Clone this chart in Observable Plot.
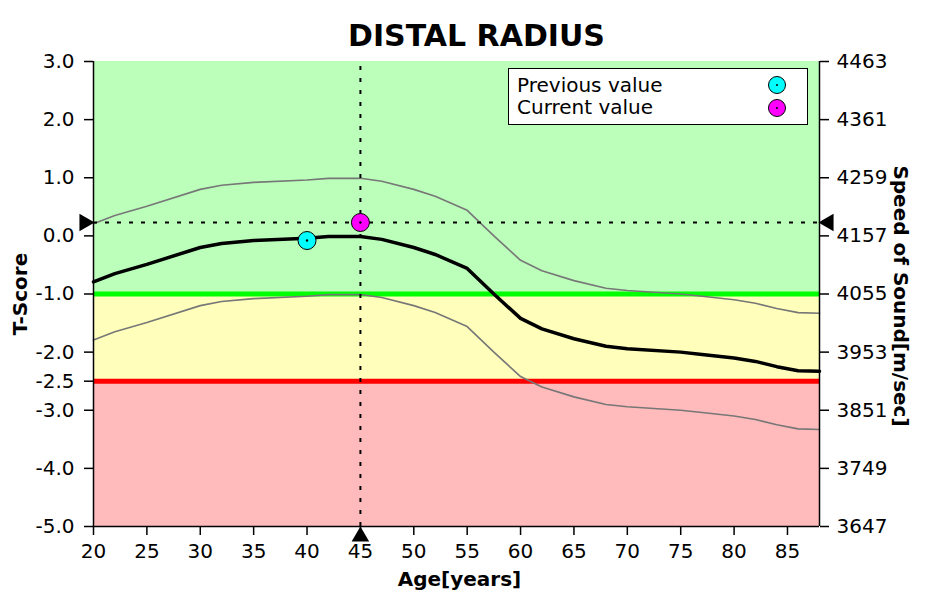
<!DOCTYPE html>
<html>
<head>
<meta charset="utf-8">
<script src="https://cdn.jsdelivr.net/npm/d3@7"></script>
<script src="https://cdn.jsdelivr.net/npm/@observablehq/plot@0.6"></script>
<style>
  html, body { margin: 0; padding: 0; background: #fff; }
  #wrap { position: relative; width: 926px; height: 603px; font-family: "DejaVu Sans", sans-serif; }
  #legend { position: absolute; left: 508px; top: 68px; width: 298px; height: 55px; background: #fff; border: 1px solid #000; font-size: 20px; line-height: 22px; }
  #legend .row { position: absolute; left: 8px; white-space: nowrap; }
  #legend .dot { position: absolute; left: 259px; width: 16px; height: 16px; border: 1px solid #000; border-radius: 50%; }
  #legend .dot::after { content: ""; position: absolute; left: 7px; top: 7px; width: 2px; height: 2px; background: #000; border-radius: 50%; }
</style>
</head>
<body>
<div id="wrap"></div>
<script>
// ---- data ----
const ages      = [20, 22, 25, 30, 32, 35, 40, 42, 45, 47, 50, 52, 55, 57.5, 60, 62, 65, 68, 70, 75, 77, 80, 82, 84, 86, 88];
const meanT     = [-0.79, -0.65, -0.49, -0.20, -0.13, -0.08, -0.04, -0.01, -0.01, -0.06, -0.20, -0.32, -0.56, -1.00, -1.42, -1.60, -1.77, -1.90, -1.94, -2.00, -2.04, -2.10, -2.16, -2.25, -2.32, -2.33];
const upperT    = [0.21, 0.35, 0.51, 0.80, 0.87, 0.92, 0.96, 0.99, 0.99, 0.94, 0.80, 0.68, 0.44, 0.00, -0.42, -0.60, -0.77, -0.90, -0.94, -1.00, -1.04, -1.10, -1.16, -1.25, -1.32, -1.33];
const lowerT    = [-1.79, -1.65, -1.49, -1.20, -1.13, -1.08, -1.04, -1.01, -1.01, -1.06, -1.20, -1.32, -1.56, -2.00, -2.42, -2.60, -2.77, -2.90, -2.94, -3.00, -3.04, -3.10, -3.16, -3.25, -3.32, -3.33];

const zoneNames  = ["normal", "osteopenia", "osteoporosis"];
const zoneTop    = [3, -1, -2.5];
const zoneBottom = [-1, -2.5, -5];
const zoneFill   = ["#bbffbb", "#ffffbb", "#ffbbbb"];

const thresholds      = [-1, -2.5];
const thresholdColors = ["#00ff00", "#ff0000"];

const leftTicks   = [3, 2, 1, 0, -1, -2, -2.5, -3, -4, -5];
const rightTicks  = [3, 2, 1, 0, -1, -2, -3, -4, -5];
const speedLabels = ["4463", "4361", "4259", "4157", "4055", "3953", "3851", "3749", "3647"];
const xTicks      = [20, 25, 30, 35, 40, 45, 50, 55, 60, 65, 70, 75, 80, 85];

const measLabels = ["Previous value", "Current value"];
const measAge    = [40, 45];
const measT      = [-0.08, 0.23];
const measColor  = ["#00ffff", "#ff00ff"];

// ---- tables ----
const curve = ages.map((a, i) => ({age: a, mean: meanT[i], upper: upperT[i], lower: lowerT[i]}));
const zones = zoneNames.map((n, i) => ({name: n, y1: zoneTop[i], y2: zoneBottom[i], fill: zoneFill[i]}));
const thr = thresholds.map((t, i) => ({t, color: thresholdColors[i]}));
const meas = measLabels.map((l, i) => ({label: l, age: measAge[i], t: measT[i], color: measColor[i]}));
const current = meas[1];

const font = "'DejaVu Sans', sans-serif";

const chart = Plot.plot({
  width: 926,
  height: 603,
  marginLeft: 93,
  marginRight: 107,
  marginTop: 61,
  marginBottom: 77,
  style: {fontFamily: font, fontSize: "20px", background: "#fff", overflow: "visible"},
  x: {domain: [20, 88]},
  y: {domain: [-5, 3]},
  marks: [
    Plot.rect(zones, {x1: 20, x2: 88, y1: "y1", y2: "y2", fill: "fill"}),
    Plot.ruleY(thr, {y: "t", x1: 20, x2: 88, stroke: "color", strokeWidth: 5}),
    Plot.line(curve, {x: "age", y: "upper", stroke: "#777777", strokeWidth: 1.6}),
    Plot.line(curve, {x: "age", y: "lower", stroke: "#777777", strokeWidth: 1.6}),
    Plot.line(curve, {x: "age", y: "mean", stroke: "#000", strokeWidth: 3.5}),
    // cross-hair through current value
    Plot.ruleY([current], {y: "t", x1: 20, x2: 88, stroke: "#000", strokeWidth: 2, strokeDasharray: "4,8"}),
    Plot.ruleX([current], {x: "age", y1: -5, y2: 3, stroke: "#000", strokeWidth: 2, strokeDasharray: "4,8"}),
    Plot.dot([current], {x: 20, y: "t", symbol: "triangle", r: 6.5, rotate: 90, fill: "#000", dx: -9}),
    Plot.dot([current], {x: 88, y: "t", symbol: "triangle", r: 6.5, rotate: -90, fill: "#000", dx: 9}),
    Plot.dot([current], {x: "age", y: -5, symbol: "triangle", r: 6.5, fill: "#000", dy: 10}),
    // measurement points
    Plot.dot(meas, {x: "age", y: "t", r: 9, fill: "color", stroke: "#000", strokeWidth: 1}),
    Plot.dot(meas, {x: "age", y: "t", r: 1.2, fill: "#000"}),
    // axis lines
    Plot.ruleX([20, 88], {stroke: "#000", strokeWidth: 1.5}),
    Plot.ruleY([-5], {stroke: "#000", strokeWidth: 1.5}),
    // axes
    Plot.axisY({ticks: leftTicks, tickFormat: d => d.toFixed(1), tickSize: 9, tickPadding: 10, label: null, anchor: "left", fontSize: 20, stroke: "#000", strokeWidth: 1.5}),
    Plot.axisY({ticks: rightTicks, tickFormat: (d, i) => speedLabels[i], tickSize: 9, tickPadding: 8, label: null, anchor: "right", fontSize: 20, stroke: "#000", strokeWidth: 1.5}),
    Plot.axisX({ticks: xTicks, tickFormat: d => String(d), tickSize: 9, tickPadding: 8, label: null, fontSize: 20, stroke: "#000", strokeWidth: 1.5}),
    // texts
    Plot.text(["DISTAL RADIUS"], {frameAnchor: "top", dx: 20, dy: -37, fontSize: 30, fontWeight: "bold", fill: "#000"}),
    Plot.text(["Age[years]"], {frameAnchor: "bottom", dx: 3, dy: 59, fontSize: 20, fontWeight: "bold", fill: "#000"}),
    Plot.text(["T-Score"], {frameAnchor: "left", textAnchor: "middle", dx: -73, dy: 0, rotate: -90, fontSize: 20, fontWeight: "bold", fill: "#000"}),
    Plot.text(["Speed of Sound[m/sec]"], {frameAnchor: "right", textAnchor: "middle", dx: 81, dy: 2, rotate: 90, fontSize: 20, fontWeight: "bold", fill: "#000"})
  ]
});

const wrap = document.getElementById("wrap");
wrap.appendChild(chart);

// legend
const legend = document.createElement("div");
legend.id = "legend";
meas.forEach((m, i) => {
  const row = document.createElement("div");
  row.className = "row";
  row.style.top = (5 + i * 22) + "px";
  row.textContent = m.label;
  legend.appendChild(row);
  const dot = document.createElement("div");
  dot.className = "dot";
  dot.style.top = (7 + i * 23) + "px";
  dot.style.background = m.color;
  legend.appendChild(dot);
});
wrap.appendChild(legend);
</script>
</body>
</html>
